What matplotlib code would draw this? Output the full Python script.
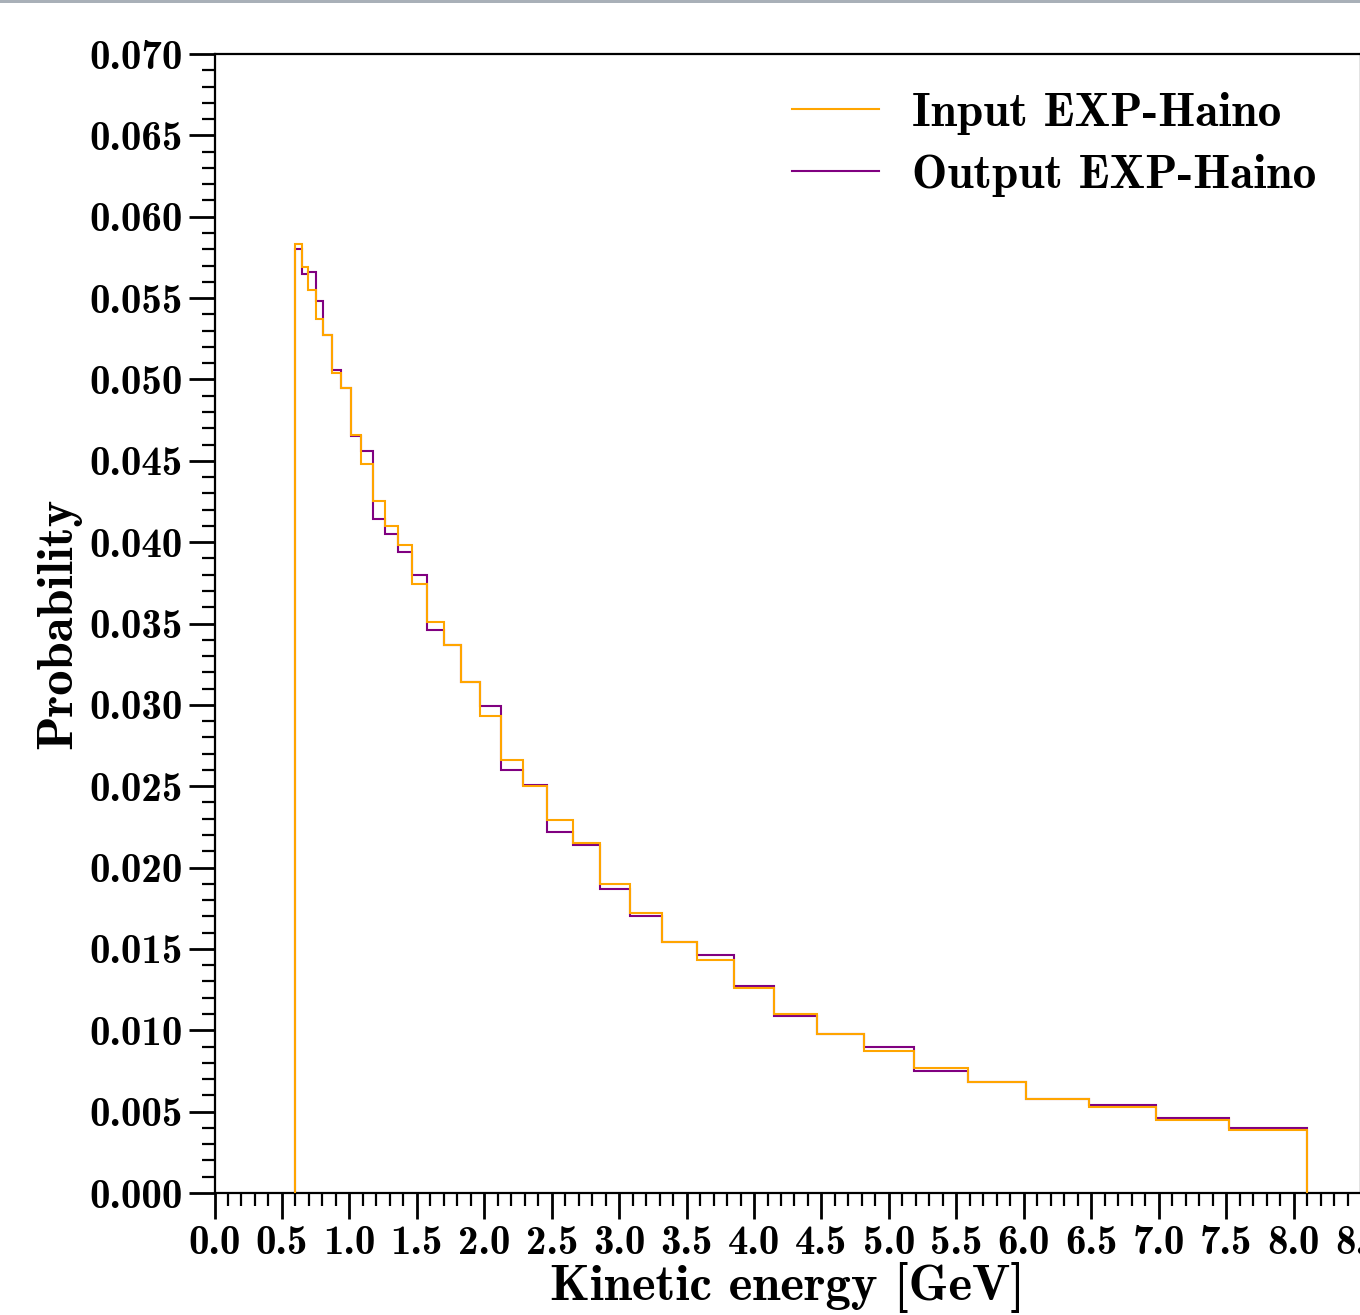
import matplotlib
matplotlib.use("Agg")
import matplotlib.pyplot as plt
from matplotlib.patches import Rectangle
from matplotlib.ticker import MultipleLocator, FormatStrFormatter

# Bin edges in kinetic energy [GeV] (log spaced)
BIN_EDGES = [0.600, 0.646, 0.696, 0.750, 0.808, 0.870, 0.937, 1.010, 1.088,
             1.172, 1.262, 1.360, 1.465, 1.578, 1.699, 1.831, 1.972, 2.124,
             2.288, 2.465, 2.655, 2.860, 3.081, 3.319, 3.575, 3.851, 4.148,
             4.468, 4.813, 5.185, 5.585, 6.016, 6.480, 6.981, 7.520, 8.100]

INPUT_PROB = [0.0583, 0.0569, 0.0555, 0.0537, 0.0527, 0.0504, 0.0495, 0.0466,
              0.0448, 0.0425, 0.0410, 0.0398, 0.0374, 0.0351, 0.0337, 0.0314,
              0.0293, 0.0266, 0.0250, 0.0229, 0.0215, 0.0190, 0.0172, 0.0154,
              0.0143, 0.0126, 0.0110, 0.0098, 0.0087, 0.0077, 0.0068, 0.0058,
              0.0053, 0.0045, 0.0039]

OUTPUT_PROB = [0.0580, 0.0565, 0.0566, 0.0548, 0.0527, 0.0506, 0.0495, 0.0465,
               0.0456, 0.0414, 0.0405, 0.0394, 0.0380, 0.0346, 0.0337, 0.0314,
               0.0299, 0.0260, 0.0251, 0.0222, 0.0214, 0.0187, 0.0170, 0.0154,
               0.0146, 0.0127, 0.0109, 0.0098, 0.0090, 0.0075, 0.0068, 0.0058,
               0.0054, 0.0046, 0.0040]

plt.rcParams['font.family'] = 'cmb10'
plt.rcParams['axes.unicode_minus'] = False
plt.rcParams['mathtext.fontset'] = 'cm'

W, H = 1360, 1315
fig = plt.figure(figsize=(W / 100, H / 100), dpi=100)

# axes box in pixels: left 214.5, right ~1361 (cut by the crop), top 54, bottom 1193
left, right, top, bottom = 214.5, 1361.0, 54.0, 1193.0
ax = fig.add_axes([left / W, (H - bottom) / H, (right - left) / W, (bottom - top) / H])

ax.stairs(OUTPUT_PROB, BIN_EDGES, color='purple', lw=1.5, label='Output EXP-Haino', zorder=2)
ax.stairs(INPUT_PROB, BIN_EDGES, color='orange', lw=1.5, label='Input EXP-Haino', zorder=3)

ax.set_xlim(0, 8.5)
ax.set_ylim(0, 0.070)

ax.xaxis.set_major_locator(MultipleLocator(0.5))
ax.xaxis.set_minor_locator(MultipleLocator(0.1))
ax.yaxis.set_major_locator(MultipleLocator(0.005))
ax.yaxis.set_minor_locator(MultipleLocator(0.001))
ax.xaxis.set_major_formatter(FormatStrFormatter('%.1f'))
ax.yaxis.set_major_formatter(FormatStrFormatter('%.3f'))

ax.tick_params(which='major', direction='out', length=18.7, width=2.0, labelsize=29.5, pad=4)
ax.tick_params(which='minor', direction='out', length=9.4, width=1.6)
for sp in ax.spines.values():
    sp.set_linewidth(1.6)

ax.set_xlabel('Kinetic energy [GeV]', fontsize=36.5, labelpad=0)
ax.set_ylabel('Probability', fontsize=36.5, labelpad=6)

handles, labels = ax.get_legend_handles_labels()
ax.legend(handles[::-1], labels[::-1], loc='upper left',
          bbox_to_anchor=(792 / W, (H - 92) / H), bbox_transform=fig.transFigure,
          frameon=False, fontsize=34, borderpad=0, borderaxespad=0,
          handlelength=1.85, handletextpad=0.7, labelspacing=0.4)

# thin gray strip along the very top of the picture
fig.add_artist(Rectangle((0, 1 - 2.5 / H), 1, 2.5 / H, transform=fig.transFigure,
                         color='#a9b0b8', lw=0, clip_on=False))

fig.savefig('out.png', dpi=100)
